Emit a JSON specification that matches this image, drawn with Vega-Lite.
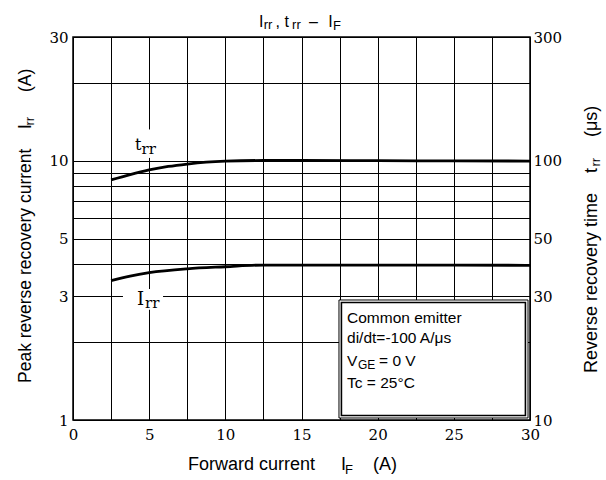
{
  "$schema": "https://vega.github.io/schema/vega-lite/v6.json",
  "width": 457,
  "height": 383,
  "autosize": {"type": "none"},
  "padding": {"left": 73, "top": 37, "right": 76, "bottom": 60},
  "background": "white",
  "config": {
    "view": {"stroke": "black", "strokeWidth": 1.5},
    "axis": {
      "domain": false,
      "ticks": false,
      "tickSize": 0,
      "gridColor": "black",
      "gridWidth": 1,
      "gridOpacity": 1,
      "labelFont": "DejaVu Serif",
      "labelFontSize": 15,
      "labelColor": "black"
    },
    "axisX": {"grid": true, "labelFlush": false, "labelPadding": 7},
    "text": {"font": "Liberation Sans", "color": "black", "align": "left", "baseline": "alphabetic"}
  },
  "datasets": {
    "irr": [
      {"IF": 2.5, "Irr": 3.445},
      {"IF": 3.75, "Irr": 3.59},
      {"IF": 5, "Irr": 3.70},
      {"IF": 7.5, "Irr": 3.83},
      {"IF": 10, "Irr": 3.90},
      {"IF": 12.5, "Irr": 3.96},
      {"IF": 15, "Irr": 3.96},
      {"IF": 20, "Irr": 3.96},
      {"IF": 25, "Irr": 3.955},
      {"IF": 30, "Irr": 3.95}
    ],
    "trr": [
      {"IF": 2.5, "trr": 84.3},
      {"IF": 3.75, "trr": 88.4},
      {"IF": 5, "trr": 92.1},
      {"IF": 6.25, "trr": 95.0},
      {"IF": 7.5, "trr": 97.1},
      {"IF": 8.75, "trr": 98.7},
      {"IF": 10, "trr": 99.6},
      {"IF": 12.5, "trr": 100.2},
      {"IF": 15, "trr": 100.2},
      {"IF": 20, "trr": 100.0},
      {"IF": 25, "trr": 99.8},
      {"IF": 30, "trr": 99.7}
    ]
  },
  "data": {"values": [{}]},
  "layer": [
    {
      "layer": [
        {
          "data": {"name": "irr"},
          "mark": {"type": "line", "color": "black", "strokeWidth": 2.8, "interpolate": "monotone"},
          "encoding": {
            "x": {
              "field": "IF",
              "type": "quantitative",
              "title": null,
              "scale": {"domain": [0, 30], "nice": false},
              "axis": {
                "grid": true,
                "tickCount": 20,
                "values": [0, 2.5, 5, 7.5, 10, 12.5, 15, 17.5, 20, 22.5, 25, 27.5, 30],
                "labelExpr": "datum.value % 5 == 0 ? datum.label : ''"
              }
            },
            "y": {
              "field": "Irr",
              "type": "quantitative",
              "title": null,
              "scale": {"type": "log", "domain": [1, 30], "nice": false},
              "axis": {
                "grid": true,
                "tickCount": 20,
                "values": [1, 2, 3, 4, 5, 6, 7, 8, 9, 10, 20, 30],
                "format": "d",
                "labelExpr": "indexof([1, 3, 5, 10, 30], datum.value) >= 0 ? datum.label : ''",
                "labelPadding": 5
              }
            }
          }
        },
        {
          "mark": {"type": "rect", "fill": "white"},
          "encoding": {"x": {"datum": 3.94}, "x2": {"datum": 5.84}, "y": {"datum": 10.25}, "y2": {"datum": 13.2}}
        },
        {
          "mark": {"type": "rect", "fill": "white"},
          "encoding": {"x": {"datum": 3.28}, "x2": {"datum": 5.91}, "y": {"datum": 2.66}, "y2": {"datum": 3.2}}
        },
        {
          "mark": {"type": "rect", "fill": "white", "stroke": "black", "strokeWidth": 1},
          "encoding": {"x": {"datum": 17.46}, "x2": {"datum": 29.87}, "y": {"datum": 1.018}, "y2": {"datum": 2.903}}
        },
        {
          "mark": {"type": "rect", "fill": null, "fillOpacity": 0, "stroke": "black", "strokeWidth": 1.6},
          "encoding": {"x": {"datum": 17.62}, "x2": {"datum": 29.7}, "y": {"datum": 1.041}, "y2": {"datum": 2.84}}
        },
        {"mark": {"type": "text", "text": "t", "font": "DejaVu Serif", "fontSize": 16}, "encoding": {"x": {"datum": 4.07}, "y": {"datum": 11.0}}},
        {"mark": {"type": "text", "text": "rr", "font": "DejaVu Serif", "fontSize": 15, "dy": 4}, "encoding": {"x": {"datum": 4.5}, "y": {"datum": 11.0}}},
        {"mark": {"type": "text", "text": "I", "font": "DejaVu Serif", "fontSize": 18}, "encoding": {"x": {"datum": 4.2}, "y": {"datum": 2.777}}},
        {"mark": {"type": "text", "text": "rr", "font": "DejaVu Serif", "fontSize": 15, "dy": 3}, "encoding": {"x": {"datum": 4.73}, "y": {"datum": 2.777}}},

        {"mark": {"type": "text", "text": "Common emitter", "fontSize": 15.5}, "encoding": {"x": {"datum": 17.99}, "y": {"datum": 2.366}}},
        {"mark": {"type": "text", "text": "di/dt=-100 A/μs", "fontSize": 15.5}, "encoding": {"x": {"datum": 17.99}, "y": {"datum": 1.982}}},
        {"mark": {"type": "text", "text": "V", "fontSize": 15.5}, "encoding": {"x": {"datum": 17.99}, "y": {"datum": 1.615}}},
        {"mark": {"type": "text", "text": "GE", "fontSize": 12, "dy": 3}, "encoding": {"x": {"datum": 18.71}, "y": {"datum": 1.615}}},
        {"mark": {"type": "text", "text": "= 0 V", "fontSize": 15.5}, "encoding": {"x": {"datum": 20.09}, "y": {"datum": 1.615}}},
        {"mark": {"type": "text", "text": "Tc = 25°C", "fontSize": 15.5}, "encoding": {"x": {"datum": 17.99}, "y": {"datum": 1.328}}},

        {"mark": {"type": "text", "text": "I", "fontSize": 16}, "encoding": {"x": {"datum": 12.21}, "y": {"datum": 32.78}}},
        {"mark": {"type": "text", "text": "rr", "fontSize": 13, "dy": 2}, "encoding": {"x": {"datum": 12.52}, "y": {"datum": 32.78}}},
        {"mark": {"type": "text", "text": ", t", "fontSize": 16}, "encoding": {"x": {"datum": 13.3}, "y": {"datum": 32.78}}},
        {"mark": {"type": "text", "text": "rr", "fontSize": 13, "dy": 2}, "encoding": {"x": {"datum": 14.38}, "y": {"datum": 32.78}}},
        {"mark": {"type": "text", "text": "–", "fontSize": 16}, "encoding": {"x": {"datum": 15.5}, "y": {"datum": 32.78}}},
        {"mark": {"type": "text", "text": "I", "fontSize": 16}, "encoding": {"x": {"datum": 16.75}, "y": {"datum": 32.78}}},
        {"mark": {"type": "text", "text": "F", "fontSize": 13, "dy": 3}, "encoding": {"x": {"datum": 17.06}, "y": {"datum": 32.78}}},

        {"mark": {"type": "text", "text": "Forward current", "fontSize": 18}, "encoding": {"x": {"datum": 7.55}, "y": {"datum": 0.6415}}},
        {"mark": {"type": "text", "text": "I", "fontSize": 18}, "encoding": {"x": {"datum": 17.59}, "y": {"datum": 0.6415}}},
        {"mark": {"type": "text", "text": "F", "fontSize": 13, "dy": 4}, "encoding": {"x": {"datum": 17.86}, "y": {"datum": 0.6415}}},
        {"mark": {"type": "text", "text": "(A)", "fontSize": 18}, "encoding": {"x": {"datum": 19.69}, "y": {"datum": 0.6415}}},

        {"mark": {"type": "text", "text": "Peak reverse recovery current", "fontSize": 17.5, "angle": 270}, "encoding": {"x": {"datum": -2.757}, "y": {"datum": 1.389}}},
        {"mark": {"type": "text", "text": "I", "fontSize": 17.5, "angle": 270}, "encoding": {"x": {"datum": -2.757}, "y": {"datum": 13.25}}},
        {"mark": {"type": "text", "text": "rr", "fontSize": 13, "angle": 270, "dy": 3}, "encoding": {"x": {"datum": -2.757}, "y": {"datum": 13.66}}},
        {"mark": {"type": "text", "text": "(A)", "fontSize": 17.5, "angle": 270}, "encoding": {"x": {"datum": -2.757}, "y": {"datum": 18.41}}},

        {"mark": {"type": "text", "text": "Reverse recovery time", "fontSize": 18, "angle": 270}, "encoding": {"x": {"datum": 34.4}, "y": {"datum": 1.518}}},
        {"mark": {"type": "text", "text": "t", "fontSize": 18, "angle": 270}, "encoding": {"x": {"datum": 34.4}, "y": {"datum": 8.97}}},
        {"mark": {"type": "text", "text": "rr", "fontSize": 13, "angle": 270, "dy": 3}, "encoding": {"x": {"datum": 34.4}, "y": {"datum": 9.5}}},
        {"mark": {"type": "text", "text": "(μs)", "fontSize": 18, "angle": 270}, "encoding": {"x": {"datum": 34.4}, "y": {"datum": 12.34}}}
      ]
    },
    {
      "data": {"name": "trr"},
      "mark": {"type": "line", "color": "black", "strokeWidth": 2.8, "interpolate": "monotone"},
      "encoding": {
        "x": {
          "field": "IF",
          "type": "quantitative",
          "title": null,
          "axis": {
            "grid": true,
            "tickCount": 20,
            "values": [0, 2.5, 5, 7.5, 10, 12.5, 15, 17.5, 20, 22.5, 25, 27.5, 30],
            "labelExpr": "datum.value % 5 == 0 ? datum.label : ''"
          }
        },
        "y": {
          "field": "trr",
          "type": "quantitative",
          "title": null,
          "scale": {"type": "log", "domain": [10, 300], "nice": false},
          "axis": {
            "orient": "right",
            "grid": false,
            "values": [10, 30, 50, 100, 300],
            "format": "d",
            "labelPadding": 3
          }
        }
      }
    }
  ],
  "resolve": {"scale": {"y": "independent"}}
}
